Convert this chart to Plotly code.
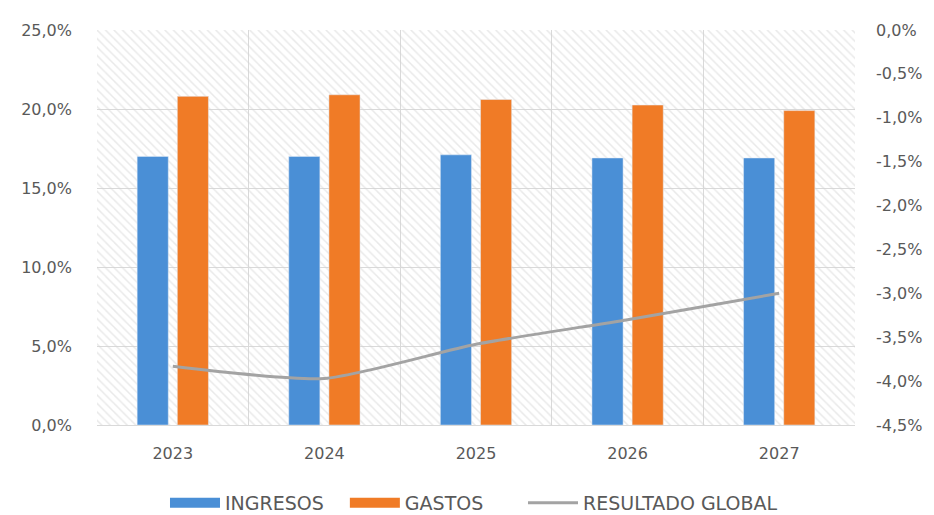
import plotly.graph_objects as go

years = ["2023", "2024", "2025", "2026", "2027"]
ingresos = [17.0, 17.0, 17.1, 16.9, 16.9]
gastos = [20.8, 20.9, 20.6, 20.25, 19.9]
resultado = [-3.83, -3.97, -3.58, -3.3, -3.0]

left_ticks = [0, 5, 10, 15, 20, 25]
right_ticks = [-4.5, -4.0, -3.5, -3.0, -2.5, -2.0, -1.5, -1.0, -0.5, 0.0]

BLUE = "#4a8fd6"
ORANGE = "#f07b26"
GRAY = "#a3a3a3"
TXT = "#595959"
GRID = "#d9d9d9"
FONT = "DejaVu Sans"


def pct(v):
    return f"{v:.1f}".replace(".", ",") + "%"


fig = go.Figure()

# hatched plot background (decorative layer on hidden base axes)
fig.add_trace(go.Scatter(
    x=[0, 1, 1, 0, 0], y=[0, 0, 1, 1, 0], mode="none", fill="toself",
    fillcolor="rgba(0,0,0,0)",
    fillpattern=dict(shape="\\", fgcolor="#d4d4d4", bgcolor="rgba(255,255,255,0)",
                     size=6, solidity=0.25),
    showlegend=False, hoverinfo="skip", xaxis="x", yaxis="y"))

fig.add_trace(go.Bar(x=years, y=ingresos, name="INGRESOS", marker_color=BLUE,
                     xaxis="x2", yaxis="y2", legendgroup="ing", showlegend=False))
fig.add_trace(go.Bar(x=years, y=gastos, name="GASTOS", marker_color=ORANGE,
                     xaxis="x2", yaxis="y2", legendgroup="gas", showlegend=False))
fig.add_trace(go.Scatter(x=years, y=resultado, name="RESULTADO GLOBAL", mode="lines",
                         line=dict(color=GRAY, width=3, shape="spline", smoothing=0.6),
                         xaxis="x2", yaxis="y3", showlegend=False))

# legend swatches (wide blocks as in the reference legend)
fig.add_trace(go.Scatter(x=[None], y=[None], mode="lines", name="INGRESOS",
                         line=dict(color=BLUE, width=10), legendgroup="ing",
                         xaxis="x2", yaxis="y2", legend="legend"))
fig.add_trace(go.Scatter(x=[None], y=[None], mode="lines", name="GASTOS",
                         line=dict(color=ORANGE, width=10), legendgroup="gas",
                         xaxis="x2", yaxis="y2", legend="legend2"))
fig.add_trace(go.Scatter(x=[None], y=[None], mode="lines", name="RESULTADO GLOBAL",
                         line=dict(color=GRAY, width=3),
                         xaxis="x2", yaxis="y3", legend="legend3"))

leg = dict(orientation="h", xanchor="left", y=-0.197, yanchor="middle",
           font=dict(size=19, color=TXT), itemwidth=50, bgcolor="rgba(0,0,0,0)")

fig.update_layout(
    width=926, height=507,
    margin=dict(l=89, r=79, t=22, b=90, autoexpand=False),
    paper_bgcolor="white", plot_bgcolor="white",
    barmode="group", bargap=0.47, bargroupgap=0.225,
    font=dict(family=FONT, size=16, color=TXT),
    showlegend=True,
    legend=dict(leg, x=0.0897),
    legend2=dict(leg, x=0.327),
    legend3=dict(leg, x=0.562),
    xaxis=dict(range=[0, 1], visible=False, fixedrange=True, automargin=False),
    yaxis=dict(range=[0, 1], visible=False, fixedrange=True, automargin=False),
    xaxis2=dict(overlaying="x", type="category", tickson="boundaries",
                showgrid=True, gridcolor=GRID, gridwidth=1,
                showline=True, linecolor=GRID, linewidth=1, automargin=False,
                ticks="", tickfont=dict(size=16, color=TXT), ticklabelstandoff=14),
    yaxis2=dict(overlaying="y", range=[0, 25], tickvals=left_ticks,
                ticktext=[pct(v) for v in left_ticks],
                showgrid=True, gridcolor=GRID, gridwidth=1, zeroline=False,
                automargin=False,
                tickfont=dict(size=16, color=TXT), ticklabelstandoff=24),
    yaxis3=dict(overlaying="y", side="right", range=[-4.5, 0], tickvals=right_ticks,
                ticktext=[pct(v) for v in right_ticks],
                showgrid=False, zeroline=False, automargin=False,
                tickfont=dict(size=16, color=TXT), ticklabelstandoff=20),
)

fig.write_html("out.html")
